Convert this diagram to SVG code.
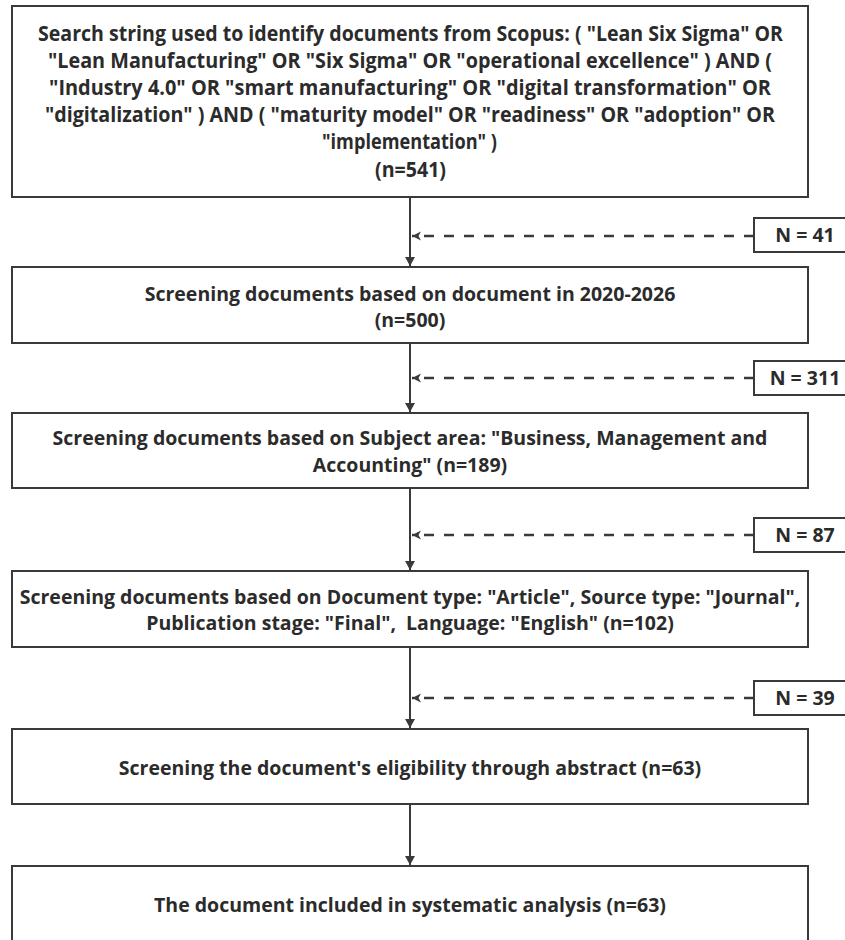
<svg xmlns="http://www.w3.org/2000/svg" width="845" height="940" viewBox="0 0 845 940">
<style>
.box{fill:#fff;stroke:#3a3a3a;stroke-width:2}
.t{font-family:"Open Sans","Noto Sans","DejaVu Sans",sans-serif;font-weight:700;font-size:19.5px;fill:#2b2b2b;text-anchor:middle}
.tc{font-family:"Open Sans","Noto Sans","DejaVu Sans",sans-serif;font-weight:700;font-size:21px;fill:#2b2b2b}
.v{stroke:#3a3a3a;stroke-width:2;fill:none}
.d{stroke:#3a3a3a;stroke-width:2.4;fill:none;stroke-dasharray:10 10}
</style>
<defs>
<marker id="ah" markerUnits="userSpaceOnUse" markerWidth="10" markerHeight="10" refX="9" refY="5" orient="auto" viewBox="0 0 10 10">
<path d="M0,0 L9,5 L0,10 z" fill="#3a3a3a"/>
</marker>
<marker id="al" markerUnits="userSpaceOnUse" markerWidth="10" markerHeight="10" refX="9" refY="5" orient="auto" viewBox="0 0 10 10">
<path d="M0,0.5 L9,5 L0,9.5 L2.5,5 z" fill="#3a3a3a"/>
</marker>
</defs>
<rect width="845" height="940" fill="#fff"/>
<g id="connectors">
<line class="v" x1="410" y1="197" x2="410" y2="266" marker-end="url(#ah)"/>
<line class="v" x1="410" y1="343" x2="410" y2="412" marker-end="url(#ah)"/>
<line class="v" x1="410" y1="488" x2="410" y2="570" marker-end="url(#ah)"/>
<line class="v" x1="410" y1="647" x2="410" y2="728" marker-end="url(#ah)"/>
<line class="v" x1="410" y1="804" x2="410" y2="865" marker-end="url(#ah)"/>
<line class="d" x1="754" y1="236" x2="412" y2="236" marker-end="url(#al)"/>
<line class="d" x1="754" y1="378" x2="412" y2="378" marker-end="url(#al)"/>
<line class="d" x1="754" y1="535" x2="412" y2="535" marker-end="url(#al)"/>
<line class="d" x1="754" y1="698" x2="412" y2="698" marker-end="url(#al)"/>
</g>
<g id="n1">
<rect class="box" x="12" y="6" width="796" height="191"/>
<text class="tc" x="38" y="41" textLength="745" lengthAdjust="spacingAndGlyphs">Search string used to identify documents from Scopus: ( "Lean Six Sigma" OR</text>
<text class="tc" x="48" y="68" textLength="724" lengthAdjust="spacingAndGlyphs">"Lean Manufacturing" OR "Six Sigma" OR "operational excellence" ) AND (</text>
<text class="tc" x="49" y="95" textLength="722" lengthAdjust="spacingAndGlyphs">"Industry 4.0" OR "smart manufacturing" OR "digital transformation" OR</text>
<text class="tc" x="45" y="122" textLength="730" lengthAdjust="spacingAndGlyphs">"digitalization" ) AND ( "maturity model" OR "readiness" OR "adoption" OR</text>
<text class="tc" x="322" y="149" textLength="175" lengthAdjust="spacingAndGlyphs">"implementation" )</text>
<text class="tc" x="375" y="177" textLength="71" lengthAdjust="spacingAndGlyphs">(n=541)</text>
</g>
<g id="n2">
<rect class="box" x="12" y="267" width="796" height="76"/>
<text class="t" x="410" y="301">Screening documents based on document in 2020-2026</text>
<text class="t" x="410" y="327">(n=500)</text>
</g>
<g id="n3">
<rect class="box" x="12" y="413" width="796" height="75"/>
<text class="t" x="410" y="445">Screening documents based on Subject area: "Business, Management and</text>
<text class="t" x="410" y="472">Accounting" (n=189)</text>
</g>
<g id="n4">
<rect class="box" x="12" y="571" width="796" height="76"/>
<text class="t" x="410" y="604">Screening documents based on Document type: "Article", Source type: "Journal",</text>
<text class="t" x="410" y="630" xml:space="preserve">Publication stage: "Final",  Language: "English" (n=102)</text>
</g>
<g id="n5">
<rect class="box" x="12" y="729" width="796" height="75"/>
<text class="t" x="410" y="775">Screening the document's eligibility through abstract (n=63)</text>
</g>
<g id="n6">
<rect class="box" x="12" y="866" width="796" height="80"/>
<text class="t" x="410" y="912">The document included in systematic analysis (n=63)</text>
</g>
<g id="e1">
<rect class="box" x="754" y="218" width="100" height="34"/>
<text class="t" x="805" y="242">N = 41</text>
</g>
<g id="e2">
<rect class="box" x="754" y="361" width="100" height="34"/>
<text class="t" x="805" y="385">N = 311</text>
</g>
<g id="e3">
<rect class="box" x="754" y="518" width="100" height="34"/>
<text class="t" x="805" y="542">N = 87</text>
</g>
<g id="e4">
<rect class="box" x="754" y="681" width="100" height="34"/>
<text class="t" x="805" y="705">N = 39</text>
</g>
</svg>
